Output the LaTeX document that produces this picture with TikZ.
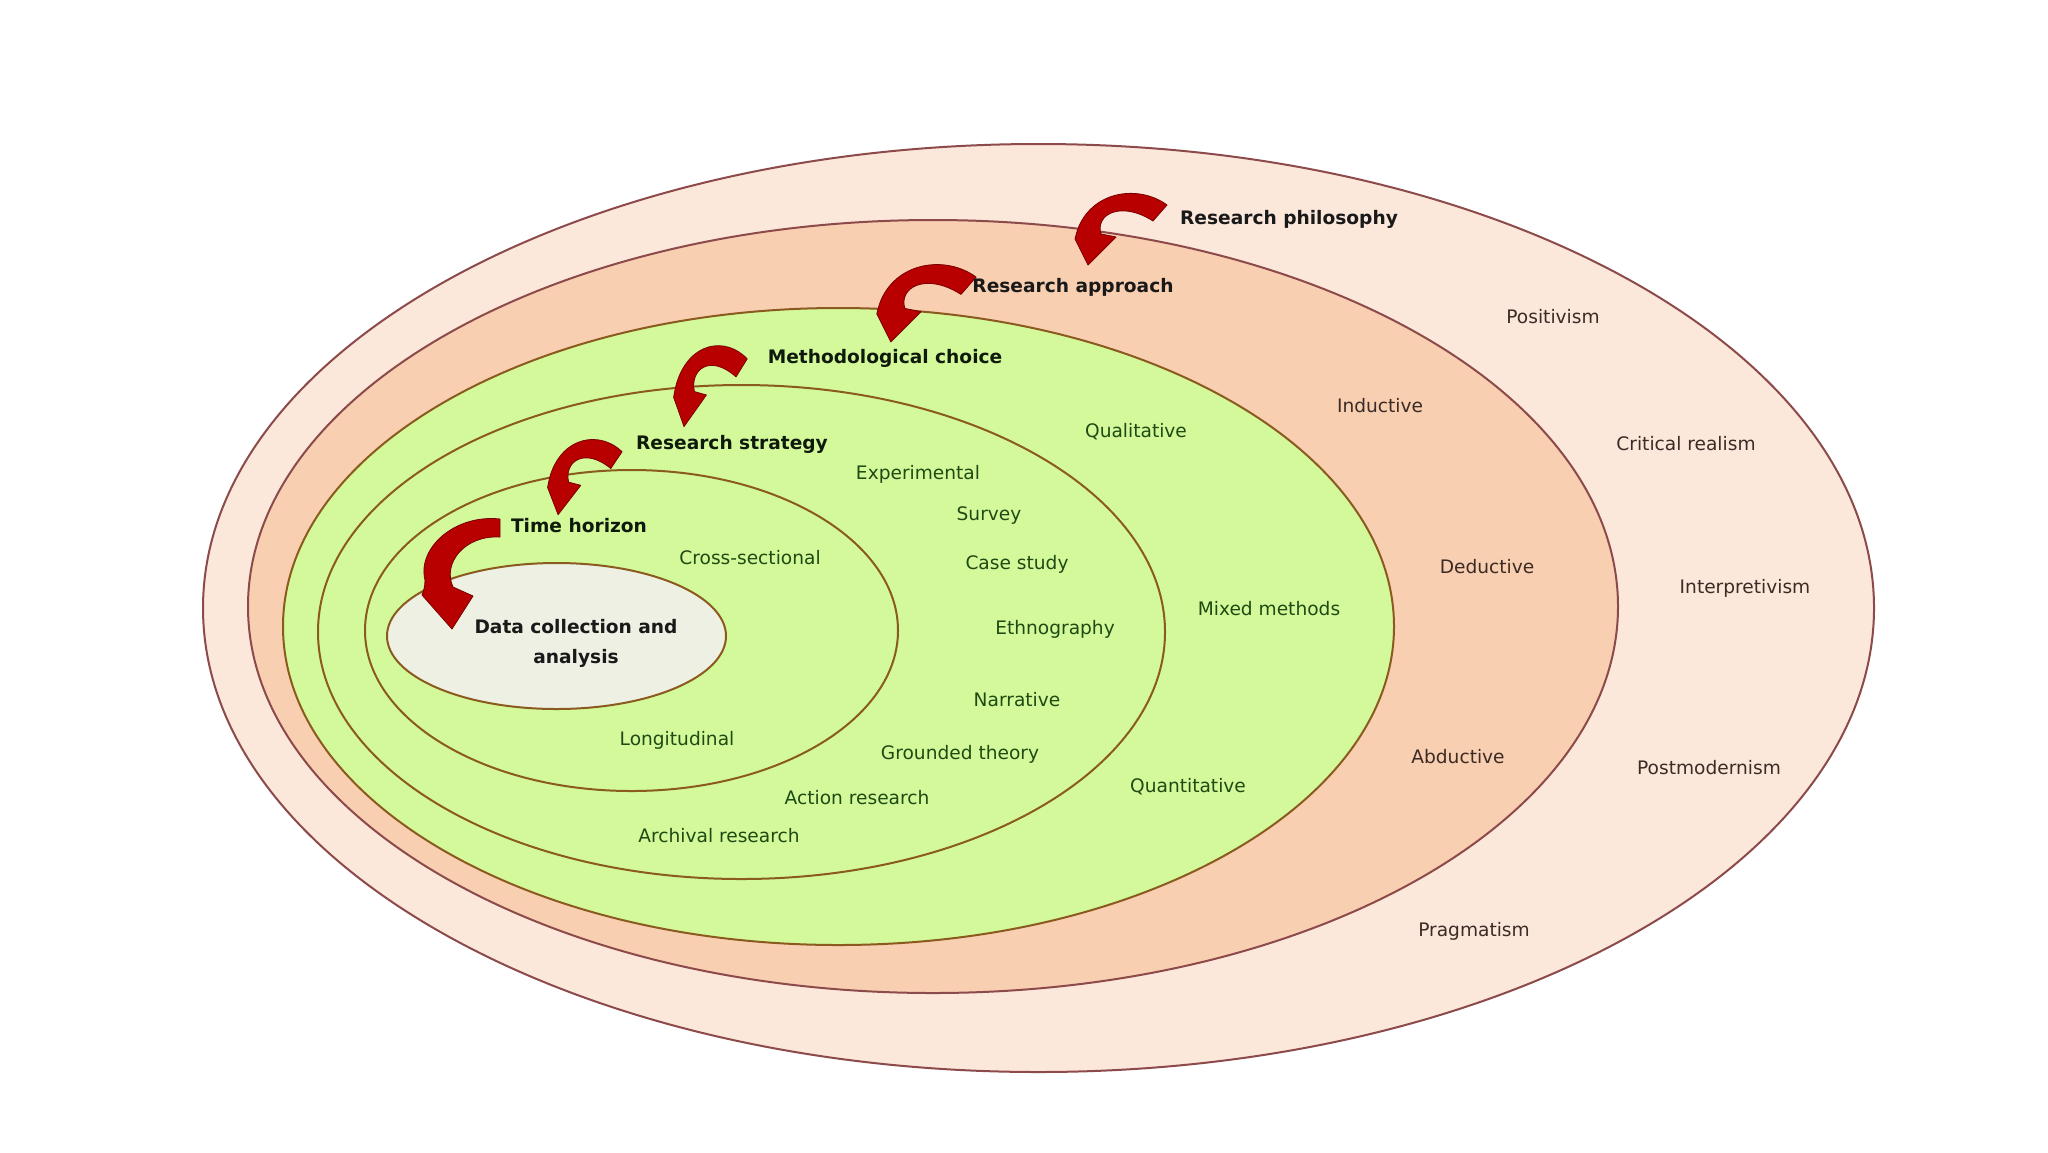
\documentclass[tikz,border=0pt]{standalone}
\usepackage{fontspec}
\setmainfont{DejaVu Sans}
\usetikzlibrary{shapes.geometric}
\definecolor{fillA}{HTML}{FCE7DB}
\definecolor{fillB}{HTML}{F8CFB1}
\definecolor{fillC}{HTML}{D3F99B}
\definecolor{fillD}{HTML}{EDF0E3}
\definecolor{lineA}{HTML}{8C4A4A}
\definecolor{lineB}{HTML}{8B5A1E}
\definecolor{arrowred}{HTML}{B80000}
\definecolor{arrowdark}{HTML}{7A0000}
\definecolor{outtext}{HTML}{3B2B24}
\definecolor{greentext}{HTML}{1F4A12}
\definecolor{headtext}{HTML}{101A0C}
\tikzset{
  ring/.style={ellipse, inner sep=0pt, outer sep=0pt, line width=1pt},
  lbl/.style={font=\fontsize{9.3}{11}\selectfont, text=outtext, inner sep=0pt},
  glbl/.style={lbl, text=greentext},
  headlbl/.style={inner sep=0pt, font=\fontsize{9.3}{15}\selectfont\bfseries, text=headtext, align=center},
  arrowfill/.style={fill=arrowred, draw=arrowdark, line width=0.4pt, line join=round},
  curvarrow/.pic={\path[arrowfill] (89,14) .. controls (62,-6) and (17,-1) .. (1,35)
      .. controls (-1,40) and (-2,44) .. (-3,48) -- (10,74) -- (38,46) -- (23,43)
      .. controls (17,24) and (42,9) .. (75,30) -- cycle;},
  longarrow/.pic={\path[arrowfill] (75,1) .. controls (30,-4) and (-8,30) .. (0,62)
      .. controls (0,68) and (-1,72) .. (-3,77) -- (27,111) -- (48,78) -- (28,69)
      .. controls (17,45) and (40,17) .. (75,19) -- cycle;}
}
\begin{document}
\begin{tikzpicture}[x=0.5pt,y=-0.5pt]
\useasboundingbox (0,0) rectangle (2048,1152);
\fill[white] (0,0) rectangle (2048,1152);
% rings
\node[ring, fill=fillA, draw=lineA, minimum width=835.5pt, minimum height=464pt] (philo) at (1038.5,608) {};
\node[ring, fill=fillB, draw=lineA, minimum width=685pt, minimum height=386.5pt] (appr) at (933,606.5) {};
\node[ring, fill=fillC, draw=lineB, minimum width=555.5pt, minimum height=318.5pt] (meth) at (838.5,626.5) {};
\node[ring, fill=fillC, draw=lineB, minimum width=423.5pt, minimum height=247pt] (strat) at (741.5,632) {};
\node[ring, fill=fillC, draw=lineB, minimum width=266.5pt, minimum height=160.5pt] (time) at (631.5,630.5) {};
\node[ring, fill=fillD, draw=lineB, minimum width=169.5pt, minimum height=73pt] (data) at (556.5,636) {};
% arrows
\pic (arrA) at (1078,191) {curvarrow};
\pic[xscale=1.08, yscale=1.08] (arrB) at (880,262) {curvarrow};
\pic[xscale=0.8, yscale=1.13] (arrC) at (676,343) {curvarrow};
\pic[xscale=0.81, yscale=1.05] (arrD) at (550,437) {curvarrow};
\pic (arrE) at (425,518) {longarrow};
% headings
\node[headlbl, text=black!90] (hphilo) at (1289,219) {Research philosophy};
\node[headlbl, text=black!90] (happr) at (1073,287) {Research approach};
\node[headlbl] (hmeth) at (885,358) {Methodological choice};
\node[headlbl] (hstrat) at (732,444) {Research strategy};
\node[headlbl] (htime) at (579,526) {Time horizon};
\node[headlbl, text=black!90] (hdata) at (576,643) {Data collection and\\analysis};
% philosophies
\node[lbl] (positivism) at (1553,317) {Positivism};
\node[lbl] (critical) at (1686,444) {Critical realism};
\node[lbl] (interp) at (1745,588) {Interpretivism};
\node[lbl] (postmod) at (1709,768) {Postmodernism};
\node[lbl] (pragm) at (1474,931) {Pragmatism};
% approaches
\node[lbl] (induct) at (1380,406) {Inductive};
\node[lbl] (deduct) at (1487,567) {Deductive};
\node[lbl] (abduct) at (1458,757) {Abductive};
% choices
\node[glbl] (qual) at (1136,432) {Qualitative};
\node[glbl] (mixed) at (1269,609) {Mixed methods};
\node[glbl] (quant) at (1188,787) {Quantitative};
% strategies
\node[glbl] (exper) at (918,474) {Experimental};
\node[glbl] (survey) at (989,516) {Survey};
\node[glbl] (cases) at (1017,564) {Case study};
\node[glbl] (ethno) at (1055,629) {Ethnography};
\node[glbl] (narr) at (1017,700) {Narrative};
\node[glbl] (ground) at (960,754) {Grounded theory};
\node[glbl] (action) at (857,798) {Action research};
\node[glbl] (archiv) at (719,836) {Archival research};
% time horizons
\node[glbl] (cross) at (750,558) {Cross-sectional};
\node[glbl] (longi) at (677,740) {Longitudinal};
\end{tikzpicture}
\end{document}
